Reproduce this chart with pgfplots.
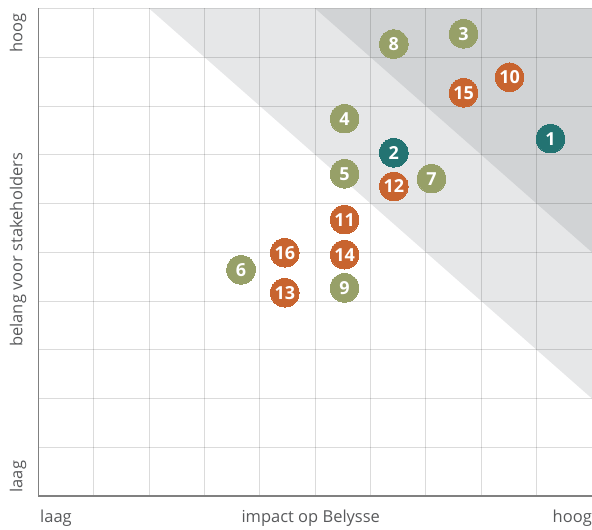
\documentclass[border=0pt]{standalone}
\usepackage{pgfplots}
\pgfplotsset{compat=1.18}
\usepackage{fontspec}
\setmainfont{Open Sans}
\definecolor{cgreen}{HTML}{97A068}
\definecolor{corange}{HTML}{C8642F}
\definecolor{cteal}{HTML}{237372}
\definecolor{clight}{HTML}{E6E7E8}
\definecolor{cdark}{HTML}{D1D3D5}
\definecolor{ctext}{HTML}{58595B}
\pgfplotstableread{
x y label
7.68 9.48 3
5.53 7.74 4
5.53 6.61 5
3.66 4.64 6
7.10 6.51 7
6.42 9.27 8
5.53 4.27 9
}\greendata
\pgfplotstableread{
x y label
8.51 8.59 10
5.53 5.67 11
6.42 6.35 12
4.45 4.17 13
5.53 4.95 14
7.68 8.27 15
4.45 4.99 16
}\orangedata
\pgfplotstableread{
x y label
9.25 7.33 1
6.42 7.04 2
}\tealdata
\begin{document}
\begin{tikzpicture}
\begin{axis}[
  set layers,
  scale only axis, width=554bp, height=488bp,
  at={(0,0)}, anchor=south west,
  xmin=0, xmax=10, ymin=0, ymax=10,
  xtick={0,...,10}, ytick={0,...,10},
  xticklabels={}, yticklabels={},
  major tick length=0pt,
  grid=major,
  grid style={black, opacity=0.14, line width=1bp},
  axis x line*=bottom, axis y line*=left,
  axis line style={-, draw=black!50, line width=1.2bp},
  clip=false,
  every node near coord/.style={anchor=center, text=white, font=\bfseries\fontsize{18bp}{18bp}\selectfont},
]
\addplot[on layer=axis background, fill=clight, draw=none] coordinates {(2,10) (10,10) (10,2) (2,10)};
\addplot[on layer=axis background, fill=cdark, draw=none] coordinates {(5,10) (10,10) (10,5) (5,10)};
\addplot[only marks, mark=*, mark size=14.3bp, mark options={draw=cgreen, fill=cgreen, line width=0pt},
  nodes near coords, point meta=explicit symbolic] table[x=x, y=y, meta=label] {\greendata};
\addplot[only marks, mark=*, mark size=14.3bp, mark options={draw=corange, fill=corange, line width=0pt},
  nodes near coords, point meta=explicit symbolic] table[x=x, y=y, meta=label] {\orangedata};
\addplot[only marks, mark=*, mark size=14.3bp, mark options={draw=cteal, fill=cteal, line width=0pt},
  nodes near coords, point meta=explicit symbolic] table[x=x, y=y, meta=label] {\tealdata};
\coordinate (O) at (rel axis cs:0,0);
\end{axis}
\begin{scope}[shift={(O)}, every node/.style={inner sep=0pt, text=ctext, font=\fontsize{16.5bp}{20bp}\selectfont}]
\node[anchor=base west] at (1.5bp,-26.5bp) {laag};
\node[anchor=base] at (272.5bp,-26.5bp) {impact op Belysse};
\node[anchor=base east] at (554bp,-26.5bp) {hoog};
\node[rotate=90, anchor=base east] at (-16bp,483.5bp) {hoog};
\node[rotate=90, anchor=base] at (-16bp,246.5bp) {belang voor stakeholders};
\node[rotate=90, anchor=base west] at (-16bp,3.5bp) {laag};
\end{scope}
\pgfresetboundingbox
\path[use as bounding box] ([shift={(-38.5bp,-33.5bp)}]O) rectangle ([shift={(554bp,496.5bp)}]O);
\end{tikzpicture}
\end{document}
